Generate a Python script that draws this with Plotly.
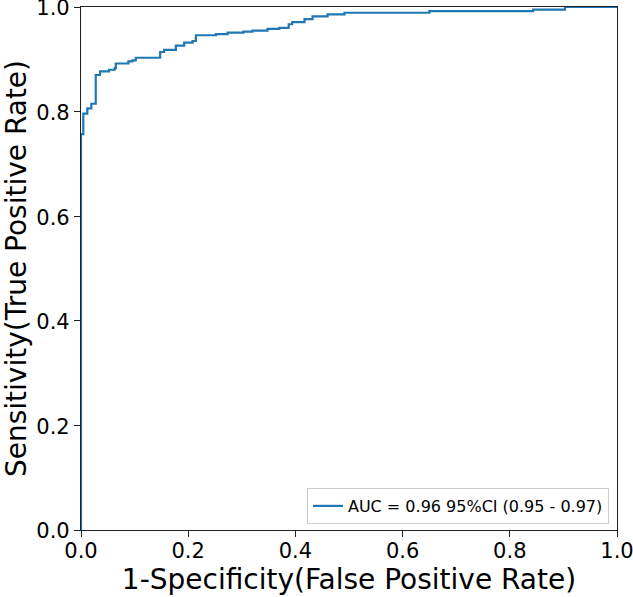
import plotly.graph_objects as go

fpr = [0.0, 0.0, 0.0043, 0.0118, 0.0193, 0.0275, 0.0355, 0.0523, 0.063, 0.0649,
       0.0884, 0.0959, 0.1022, 0.1477, 0.155, 0.177, 0.1925, 0.208, 0.2144,
       0.2518, 0.2735, 0.303, 0.320, 0.348, 0.370, 0.3875, 0.394, 0.417, 0.432,
       0.460, 0.4916, 0.650, 0.8436, 0.903, 1.0]
tpr = [0.0, 0.757, 0.796, 0.806, 0.815, 0.870, 0.877, 0.880, 0.883, 0.892,
       0.896, 0.898, 0.903, 0.914, 0.918, 0.926, 0.932, 0.935, 0.946,
       0.948, 0.951, 0.953, 0.955, 0.958, 0.960, 0.967, 0.971, 0.977, 0.982,
       0.986, 0.989, 0.992, 0.995, 1.0, 1.0]
legend_label = "AUC = 0.96 95%CI (0.95 - 0.97)"
ticks = [0.0, 0.2, 0.4, 0.6, 0.8, 1.0]
tick_text = ["0.0", "0.2", "0.4", "0.6", "0.8", "1.0"]

fig = go.Figure()
fig.add_trace(go.Scatter(x=fpr, y=tpr, mode="lines", line=dict(color="#1f77b4", width=2.2, shape="hv"),
                         name=legend_label, showlegend=True))

axis_common = dict(range=[0, 1], showgrid=False, zeroline=False, showline=True, linecolor="#222222",
                   linewidth=1.2, mirror=True, ticks="outside", ticklen=6, tickwidth=1.2, tickcolor="#222222",
                   tickvals=ticks, ticktext=tick_text, tickfont=dict(size=21, color="black"),
                   ticklabeloverflow="allow")

fig.update_layout(
    width=633, height=597,
    margin=dict(l=81, r=16, t=7, b=67),
    paper_bgcolor="white", plot_bgcolor="white",
    font=dict(family="DejaVu Sans", color="black"),
    xaxis=dict(**axis_common, ticklabelstandoff=-4, automargin="bottom",
               title=dict(text="1-Specificity(False Positive Rate)", font=dict(size=28), standoff=2)),
    yaxis=dict(**axis_common, ticklabelshift=1, automargin="left",
               title=dict(text="Sensitivity(True Positive Rate)", font=dict(size=28), standoff=7)),
    legend=dict(x=0.985, y=0.0115, xanchor="right", yanchor="bottom", bgcolor="white",
                bordercolor="#cccccc", borderwidth=1, font=dict(size=16), itemwidth=30),
    showlegend=True,
)

fig.write_html("out.html", config={"displayModeBar": False},
               post_script="document.body.style.margin='0';document.body.style.overflow='hidden';")
